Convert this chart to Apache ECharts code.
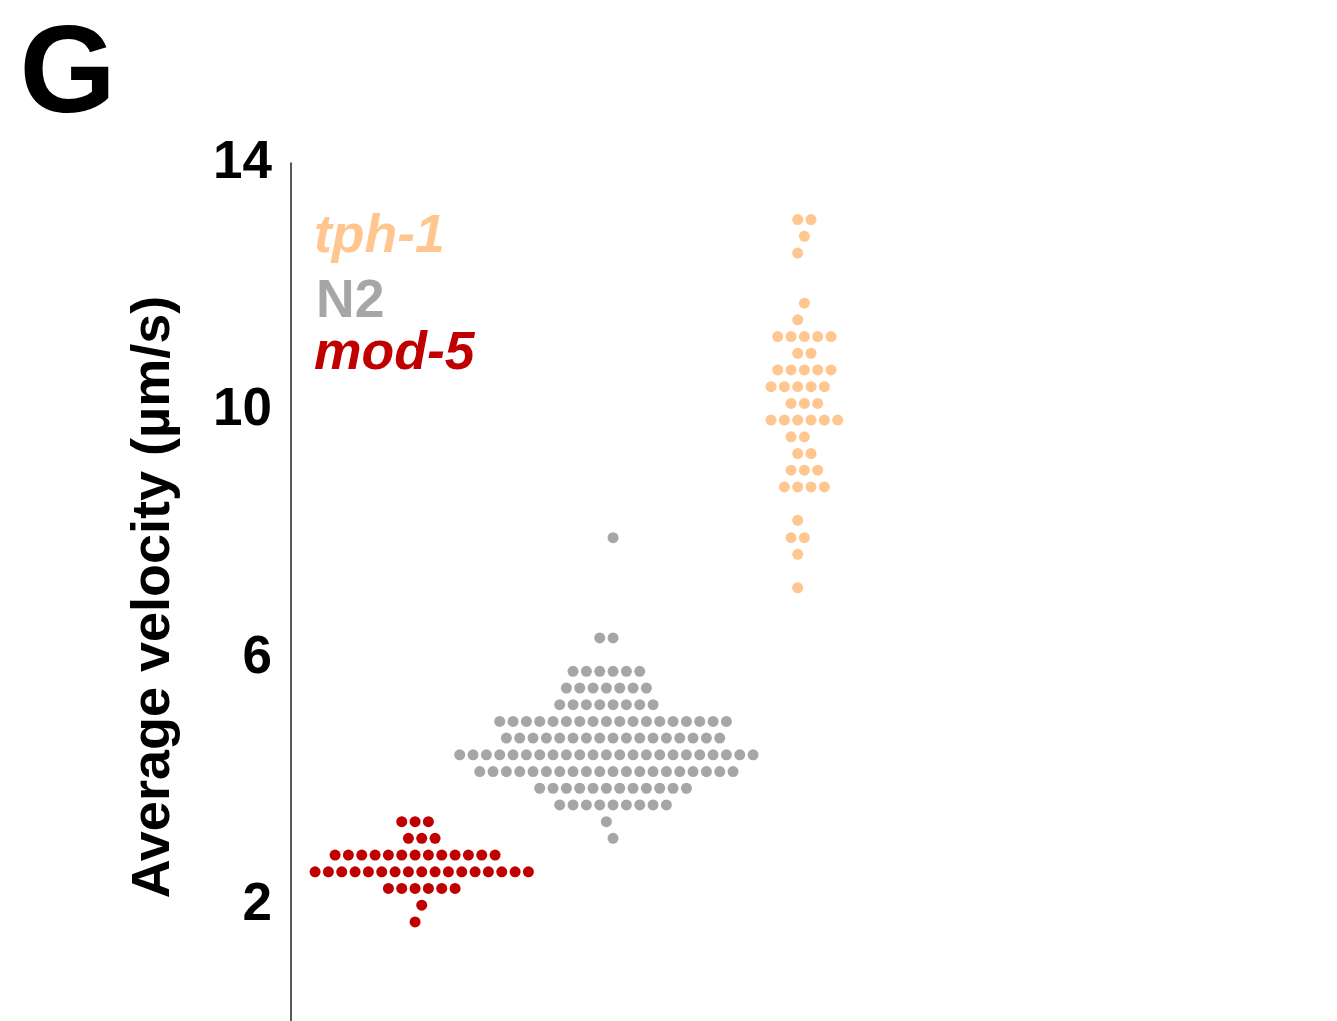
<!DOCTYPE html>
<html>
<head>
<meta charset="utf-8">
<script src="https://cdn.jsdelivr.net/npm/echarts@6/dist/echarts.min.js"></script>
<style>
html,body{margin:0;padding:0;background:#ffffff;}
#chart{width:1337px;height:1021px;}
</style>
</head>
<body>
<div id="chart"></div>
<script>
// ---- Data (beeswarm rows: value level and number of worms in that row) ----
const groupNames = ['mod-5', 'N2', 'tph-1'];
const groupPositions = [1, 2, 3];
const groupColors = ['#C00000', '#A6A6A6', '#FFC690'];

const mod5Values = [1.74, 2.01, 2.28, 2.55, 2.82, 3.09, 3.36];
const mod5Counts = [1, 1, 6, 17, 13, 3, 3];

const n2Values = [3.09, 3.36, 3.63, 3.90, 4.17, 4.44, 4.71, 4.98, 5.25, 5.52, 5.79, 6.33, 7.95];
const n2Counts = [1, 1, 9, 12, 20, 23, 17, 18, 8, 7, 6, 2, 1];

const tph1Values = [7.14, 7.68, 7.95, 8.23, 8.77, 9.04, 9.31, 9.58, 9.85, 10.12, 10.39, 10.66, 10.93, 11.20, 11.47, 11.74, 12.55, 12.82, 13.09];
const tph1Counts = [1, 1, 2, 1, 4, 3, 2, 2, 6, 3, 5, 5, 2, 5, 1, 1, 1, 1, 2];

const yTickInterval = 4;
const yMin = -2;
const yMax = 14;
const yAxisTitle = 'Average velocity (µm/s)';
const panelLetter = 'G';

// ---- Beeswarm (hex) layout ----
const BIN_BASE = 3.09, BIN = 0.27, STEP = 0.0697;
function swarm(center, values, counts) {
  const pts = [];
  values.forEach(function (v, i) {
    const n = counts[i];
    const k = Math.round((v - BIN_BASE) / BIN);
    const g = (((k % 2) + 2) % 2) ? 0.5 : 0;
    const gNat = (n % 2 === 0) ? 0.5 : 0;
    const shift = (gNat === g) ? 0 : -0.5;
    for (let j = 0; j < n; j++) {
      const off = j - (n - 1) / 2 + shift;
      pts.push([center + off * STEP, v]);
    }
  });
  return pts;
}

const groupData = [
  swarm(groupPositions[0], mod5Values, mod5Counts),
  swarm(groupPositions[1], n2Values, n2Counts),
  swarm(groupPositions[2], tph1Values, tph1Counts)
];

const FONT = '"Liberation Sans", Arial, Helvetica, sans-serif';

const chart = echarts.init(document.getElementById('chart'), null, {renderer: 'canvas'});
chart.setOption({
  animation: false,
  backgroundColor: '#ffffff',
  grid: {left: 291, top: 163.3, right: 150, bottom: -132.3, containLabel: false, outerBoundsMode: 'none'},
  xAxis: {type: 'value', min: 0.3166, max: 5, show: false, splitLine: {show: false}},
  yAxis: {
    type: 'value', min: yMin, max: yMax, interval: yTickInterval,
    axisLine: {show: true, lineStyle: {color: '#595959', width: 2}},
    axisTick: {show: false},
    splitLine: {show: false},
    axisLabel: {fontSize: 53, fontWeight: 'bold', color: '#000000', fontFamily: FONT, margin: 19, padding: [6, 0, 0, 0]}
  },
  series: groupData.map(function (d, i) {
    return {
      name: groupNames[i], type: 'scatter', data: d, symbol: 'circle', symbolSize: 11,
      itemStyle: {color: groupColors[i], opacity: 1}, silent: true
    };
  }),
  graphic: [
    {type: 'text', x: 19.5, y: 78, style: {text: panelLetter, fontSize: 124, fontWeight: 'bold', fontFamily: FONT, fill: '#000000', align: 'left', verticalAlign: 'middle'}},
    {type: 'text', x: 154.5, y: 597, rotation: Math.PI / 2,
      style: {text: yAxisTitle, fontSize: 54, fontWeight: 'bold', fontFamily: FONT, fill: '#000000', align: 'center', verticalAlign: 'middle'}},
    {type: 'text', x: 314, y: 237, style: {text: groupNames[2], fontSize: 53.5, fontWeight: 'bold', fontStyle: 'italic', fontFamily: FONT, fill: groupColors[2], align: 'left', verticalAlign: 'middle'}},
    {type: 'text', x: 316, y: 302, style: {text: groupNames[1], fontSize: 53.5, fontWeight: 'bold', fontFamily: FONT, fill: groupColors[1], align: 'left', verticalAlign: 'middle'}},
    {type: 'text', x: 314, y: 354, style: {text: groupNames[0], fontSize: 53.5, fontWeight: 'bold', fontStyle: 'italic', fontFamily: FONT, fill: groupColors[0], align: 'left', verticalAlign: 'middle'}}
  ]
});
</script>
</body>
</html>
